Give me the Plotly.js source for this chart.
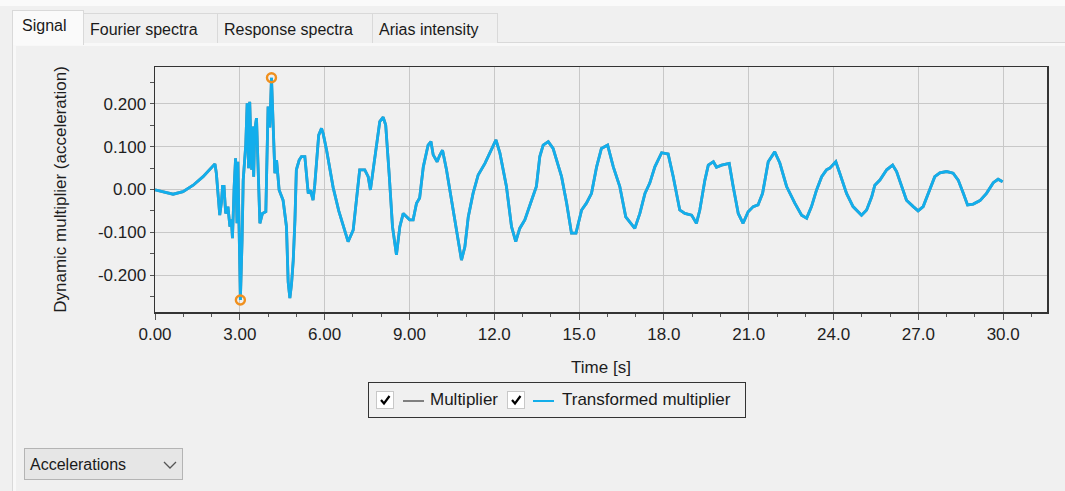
<!DOCTYPE html>
<html>
<head>
<meta charset="utf-8">
<script src="https://cdn.plot.ly/plotly-3.0.1.min.js"></script>
<style>
  html, body { margin:0; padding:0; width:1065px; height:491px; overflow:hidden; background:#f0f0f0; font-family:"Liberation Sans", Arial, sans-serif; }
  #topband { position:absolute; left:0; top:0; width:1065px; height:6px; background:#fafafa; }
  #tabline { position:absolute; left:12px; top:42px; width:1053px; height:1px; background:#d9d9d9; }
  #tabline2 { position:absolute; left:13px; top:43px; width:1052px; height:3px; background:#f8f8f8; }
  #panelL { position:absolute; left:12px; top:42px; width:1px; height:449px; background:#d9d9d9; }
  #panelL2 { position:absolute; left:13px; top:43px; width:3px; height:448px; background:#f8f8f8; }
  .tab { position:absolute; box-sizing:border-box; border:1px solid #d9d9d9; border-bottom:none; background:#f0f0f0; color:#1a1a1a; font-size:16px; line-height:32px; padding-left:6px; }
  .tab.sel { background:#fafafa; line-height:30px; padding-left:9px; z-index:3; }
  #chart { position:absolute; left:0; top:0; width:1065px; height:491px; z-index:2; }
  #legend { position:absolute; left:368px; top:382px; width:378px; height:36px; box-sizing:border-box; border:1.5px solid #333; z-index:4; background:#f0f0f0; }
  .cb { position:absolute; top:8px; width:18px; height:18px; box-sizing:border-box; border:1px solid #c8c8c8; background:#fff; }
  .cb svg { position:absolute; left:1px; top:1px; }
  .lline { position:absolute; top:17px; height:2px; width:21px; }
  .ltxt { position:absolute; top:7px; font-size:17px; color:#1a1a1a; line-height:20px; white-space:nowrap; }
  #dropdown { position:absolute; left:24px; top:448px; width:159px; height:32px; box-sizing:border-box; border:1px solid #b4b4b4; background:#e6e6e6; z-index:4; font-size:16px; color:#1a1a1a; line-height:32px; padding-left:5px; }
  #dropdown svg { position:absolute; left:138px; top:11px; }
</style>
</head>
<body>
<div id="topband"></div>
<div id="tabline"></div>
<div id="tabline2"></div>
<div id="panelL"></div>
<div id="panelL2"></div>
<div class="tab sel" style="left:12px; top:10px; width:72px; height:35px;">Signal</div>
<div class="tab" style="left:83px; top:13px; width:135px; height:30px;">Fourier spectra</div>
<div class="tab" style="left:217px; top:13px; width:156px; height:30px;">Response spectra</div>
<div class="tab" style="left:372px; top:13px; width:126px; height:30px;">Arias intensity</div>
<div id="chart"></div>
<div id="legend">
  <div class="cb" style="left:7px;"><svg width="14" height="14"><path d="M3 7 L6 10.5 L11.5 3" stroke="#000" stroke-width="2.2" fill="none"/></svg></div>
  <div class="lline" style="left:34px; background:#808080;"></div>
  <div class="ltxt" style="left:61px;">Multiplier</div>
  <div class="cb" style="left:138px;"><svg width="14" height="14"><path d="M3 7 L6 10.5 L11.5 3" stroke="#000" stroke-width="2.2" fill="none"/></svg></div>
  <div class="lline" style="left:164px; background:#13aeea;"></div>
  <div class="ltxt" style="left:193px;">Transformed multiplier</div>
</div>
<div id="dropdown">Accelerations<svg width="14" height="10"><path d="M1 2 L7 8 L13 2" stroke="#555" stroke-width="1.3" fill="none"/></svg></div>
<script>
// Time axis (s)
const time = [0.00,0.30,0.64,0.99,1.35,1.70,2.00,2.12,2.17,2.23,2.29,2.35,2.39,2.44,2.50,2.58,2.65,2.70,2.74,2.80,2.85,2.90,2.93,2.98,3.02,3.08,3.12,3.21,3.26,3.31,3.35,3.42,3.45,3.49,3.53,3.59,3.65,3.71,3.80,3.92,4.00,4.06,4.12,4.18,4.24,4.30,4.39,4.53,4.65,4.71,4.77,4.83,4.89,4.95,5.00,5.10,5.18,5.30,5.36,5.42,5.50,5.59,5.65,5.71,5.79,5.89,5.95,6.07,6.30,6.50,6.83,7.01,7.24,7.42,7.54,7.62,7.71,7.86,7.95,8.07,8.16,8.28,8.40,8.54,8.66,8.78,9.01,9.13,9.25,9.36,9.49,9.66,9.76,9.84,9.98,10.07,10.17,10.31,10.55,10.72,10.84,10.96,11.08,11.25,11.43,11.67,11.84,12.06,12.20,12.43,12.61,12.76,12.90,13.08,13.32,13.49,13.61,13.73,13.91,14.08,14.38,14.56,14.73,14.89,15.09,15.26,15.44,15.62,15.79,16.01,16.21,16.44,16.65,16.97,17.15,17.33,17.50,17.68,17.92,18.15,18.33,18.56,18.74,18.98,19.15,19.27,19.45,19.57,19.75,19.86,20.04,20.31,20.45,20.63,20.80,20.98,21.16,21.33,21.49,21.69,21.92,22.10,22.34,22.63,22.87,23.05,23.22,23.40,23.58,23.75,23.87,24.08,24.22,24.46,24.69,24.99,25.17,25.35,25.46,25.64,25.88,26.09,26.23,26.41,26.58,26.82,26.99,27.17,27.41,27.58,27.76,28.00,28.23,28.41,28.59,28.74,28.94,29.18,29.41,29.65,29.82,29.98];
// Dynamic multiplier (acceleration)
const multiplier = [-0.001,-0.006,-0.011,-0.005,0.010,0.030,0.053,0.060,0.038,-0.009,-0.060,-0.030,0.007,0.007,-0.056,-0.040,-0.087,-0.070,-0.114,0.007,0.073,-0.079,0.065,-0.110,-0.2585,-0.118,0.022,0.104,0.2015,0.050,0.205,0.046,0.147,0.030,0.140,0.167,0.050,-0.079,-0.056,-0.052,0.194,0.145,0.2615,0.124,0.038,0.069,-0.001,-0.025,-0.087,-0.216,-0.254,-0.220,-0.165,-0.071,0.046,0.069,0.077,0.077,0.038,-0.009,-0.002,-0.025,0.010,0.053,0.127,0.143,0.130,0.092,0.005,-0.050,-0.122,-0.095,0.046,0.046,0.030,-0.001,0.046,0.116,0.159,0.169,0.151,0.038,-0.087,-0.153,-0.087,-0.056,-0.071,-0.071,-0.032,-0.020,0.053,0.104,0.112,0.081,0.065,0.080,0.092,0.046,-0.048,-0.118,-0.165,-0.134,-0.064,-0.009,0.034,0.061,0.085,0.116,0.085,0.007,-0.087,-0.122,-0.091,-0.071,-0.025,0.007,0.077,0.104,0.112,0.096,0.030,-0.032,-0.102,-0.102,-0.048,-0.032,-0.009,0.053,0.096,0.104,0.053,0.007,-0.064,-0.091,-0.056,-0.009,0.015,0.053,0.086,0.083,0.030,-0.048,-0.056,-0.060,-0.079,-0.048,0.022,0.057,0.065,0.052,0.057,0.061,0.007,-0.056,-0.079,-0.052,-0.040,-0.036,-0.009,0.065,0.088,0.062,0.007,-0.032,-0.060,-0.067,-0.040,-0.001,0.030,0.046,0.050,0.065,0.038,-0.009,-0.040,-0.060,-0.048,-0.017,0.010,0.022,0.046,0.057,0.042,0.007,-0.025,-0.040,-0.050,-0.040,-0.001,0.030,0.039,0.042,0.038,0.022,-0.009,-0.036,-0.034,-0.026,-0.009,0.016,0.024,0.018];
// Transformed multiplier (coincides with the multiplier)
const transformed = multiplier.slice();

const xTickVals = [0,3,6,9,12,15,18,21,24,27,30];
const xTickText = ["0.00","3.00","6.00","9.00","12.0","15.0","18.0","21.0","24.0","27.0","30.0"];
const yTickVals = [0.2,0.1,0,-0.1,-0.2];
const yTickText = ["0.200","0.100","0.00","-0.100","-0.200"];

let iMax = 0, iMin = 0;
transformed.forEach((v,i)=>{ if (v > transformed[iMax]) iMax = i; if (v < transformed[iMin]) iMin = i; });

const font = {family:'"Liberation Sans", Arial, sans-serif', size:17, color:'#1e1e1e'};

const traces = [
  {x: time, y: multiplier, type:'scatter', mode:'lines', line:{color:'#808080', width:2.8}, name:'Multiplier', hoverinfo:'skip'},
  {x: time, y: transformed, type:'scatter', mode:'lines', line:{color:'#12aeec', width:2.8}, name:'Transformed multiplier'},
  {x: [time[iMin], time[iMax]], y: [transformed[iMin], transformed[iMax]], type:'scatter', mode:'markers',
   marker:{symbol:'circle-open', size:9, color:'#f0901e', line:{width:2.4, color:'#f0901e'}}, name:'extrema'}
];

const layout = {
  width:1065, height:491,
  margin:{l:155, r:18, t:67, b:179, pad:0},
  paper_bgcolor:'rgba(0,0,0,0)', plot_bgcolor:'#f0f0f0',
  showlegend:false, font: font,
  xaxis:{range:[0,31.55], tickvals:xTickVals, ticktext:xTickText, ticks:'outside', ticklen:6, tickwidth:1, tickcolor:'#555',
         showgrid:true, gridcolor:'#c8c8c8', gridwidth:1, zeroline:false,
         showline:true, linecolor:'#333', linewidth:1.5, mirror:true,
         minor:{dtick:1, tick0:0, ticks:'outside', ticklen:3, tickcolor:'#555', showgrid:false},
         tickfont:font, automargin:false,
         title:{text:'Time [s]', font:font, standoff:18}},
  yaxis:{range:[-0.2865,0.2865], tickvals:yTickVals, ticktext:yTickText, ticks:'outside', ticklen:4, tickwidth:1, tickcolor:'#555',
         showgrid:true, gridcolor:'#c8c8c8', gridwidth:1, zeroline:false,
         showline:true, linecolor:'#333', linewidth:1.5, mirror:true,
         minor:{dtick:0.05, tick0:0, ticks:'outside', ticklen:4, tickcolor:'#555', showgrid:false},
         tickfont:font, automargin:false,
         title:{text:'Dynamic multiplier (acceleration)', font:font, standoff:27}}
};

Plotly.newPlot('chart', traces, layout, {staticPlot:true, displayModeBar:false});
</script>
</body>
</html>
